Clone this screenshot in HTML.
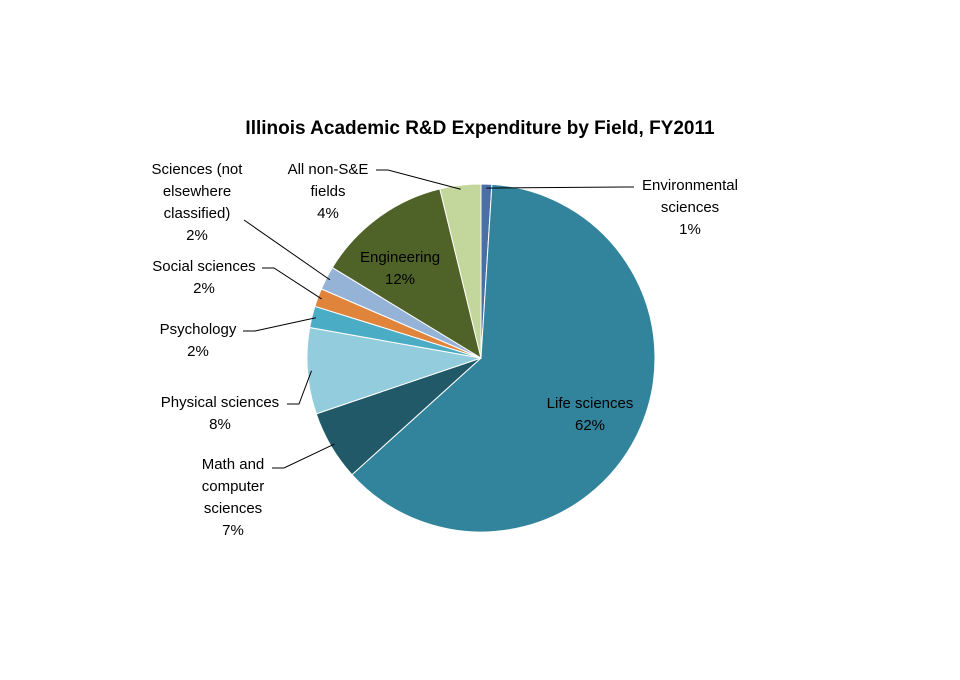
<!DOCTYPE html>
<html><head><meta charset="utf-8"><style>
body{margin:0;background:#fff;}
svg text{font-family:"Liberation Sans",sans-serif;font-size:15px;fill:#000;}
</style></head><body>
<svg id="chart" width="960" height="675">
<text x="480" y="134" text-anchor="middle" style="font-size:19px;font-weight:bold">Illinois Academic R&amp;D Expenditure by Field, FY2011</text>
<g id="slices"></g>
<g id="labels"></g>
</svg>
<script>
const categories=["Environmental sciences","Life sciences","Math and computer sciences","Physical sciences","Psychology","Social sciences","Sciences (not elsewhere classified)","Engineering","All non-S&E fields"];
const values=[1.0,62.3,6.5,8.0,2.0,1.7,2.2,12.5,3.8];
const pctLabels=["1%","62%","7%","8%","2%","2%","2%","12%","4%"];
const colors=["#4a6fa5","#31849b","#215968","#93cddd","#4bacc6","#e0843c","#95b3d7","#4f6228","#c3d69b"];
const cx=481,cy=358,r=174;
const NS="http://www.w3.org/2000/svg";
const total=values.reduce((a,b)=>a+b,0);
function pt(frac,rad){const a=frac*2*Math.PI;return [cx+rad*Math.sin(a),cy-rad*Math.cos(a)];}
const g=document.getElementById('slices');
let cum=0;const mids=[];
values.forEach((v,i)=>{
  const s=cum/total,e=(cum+v)/total;cum+=v;mids.push((s+e)/2);
  const p1=pt(s,r),p2=pt(e,r);const large=(e-s)>0.5?1:0;
  const p=document.createElementNS(NS,'path');
  p.setAttribute('d',`M${cx},${cy}L${p1[0]},${p1[1]}A${r},${r} 0 ${large} 1 ${p2[0]},${p2[1]}Z`);
  p.setAttribute('fill',colors[i]);p.setAttribute('stroke','#fff');p.setAttribute('stroke-width','1');
  
  
  g.appendChild(p);
});
// label layout (positions of text blocks), lines
const labelLayout=[
 {lines:["Environmental","sciences"],x:690,y:190,lx:634,ly:187},
 {lines:["Life sciences"],x:590,y:408,inside:true},
 {lines:["Math and","computer","sciences"],x:233,y:469,lx:272,ly:468},
 {lines:["Physical sciences"],x:220,y:407,lx:287,ly:404},
 {lines:["Psychology"],x:198,y:334,lx:243,ly:331},
 {lines:["Social sciences"],x:204,y:271,lx:262,ly:268},
 {lines:["Sciences (not","elsewhere","classified)"],x:197,y:174,lx:244,ly:220},
 {lines:["Engineering"],x:400,y:262,inside:true},
 {lines:["All non-S&E","fields"],x:328,y:174,lx:376,ly:170}
];
const lg=document.getElementById('labels');
labelLayout.forEach((L,i)=>{
  const t=document.createElementNS(NS,'text');
  t.setAttribute('text-anchor','middle');
  
  
  const all=L.lines.concat([pctLabels[i]]);
  all.forEach((ln,k)=>{const ts=document.createElementNS(NS,'tspan');ts.setAttribute('x',L.x);ts.setAttribute('y',L.y+k*22);ts.textContent=ln;t.appendChild(ts);});
  lg.appendChild(t);
  if(!L.inside){
    const edge=pt(mids[i],r-4);
    const pl=document.createElementNS(NS,'polyline');
    const kx=L.lx<cx?L.lx+ (i===6?0:12):L.lx-10;
    pl.setAttribute('points',`${L.lx},${L.ly} ${kx},${L.ly} ${edge[0]},${edge[1]}`);
    pl.setAttribute('fill','none');pl.setAttribute('stroke','#000');pl.setAttribute('stroke-width','1');
    
    
    lg.appendChild(pl);
  }
});
</script>
</body></html>
